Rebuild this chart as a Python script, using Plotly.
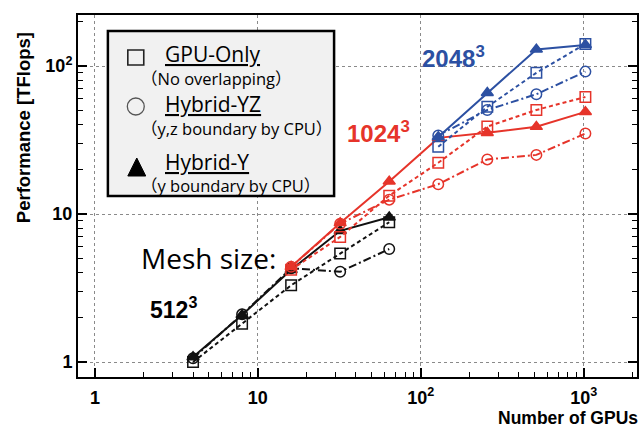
import plotly.graph_objects as go

# ---- data -------------------------------------------------------------
gpus_512 = [4, 8, 16, 32, 64]
gpus_1024 = [16, 32, 64, 128, 256, 512, 1024]
gpus_2048 = [128, 256, 512, 1024]

gpu_only_512 = [1.0, 1.81, 3.3, 5.4, 8.8]
hybrid_yz_512 = [1.06, 2.1, 4.3, 4.07, 5.8]
hybrid_y_512 = [1.08, 2.08, 4.2, 7.7, 9.5]

gpu_only_1024 = [4.2, 7.0, 13.3, 22.2, 39.0, 50.5, 61.8]
hybrid_yz_1024 = [4.4, 8.6, 12.5, 15.9, 23.4, 25.1, 35.0]
hybrid_y_1024 = [4.4, 8.7, 16.6, 32.7, 35.4, 38.9, 49.0]

gpu_only_2048 = [28.5, 53.0, 90.0, 141.0]
hybrid_yz_2048 = [34.0, 50.5, 64.5, 91.7]
hybrid_y_2048 = [33.2, 66.0, 129.5, 139.0]

x_tick_vals = [1, 10, 100, 1000]
x_tick_text = ["1", "10", "10<sup>2</sup>", "10<sup>3</sup>"]
y_tick_vals = [1, 10, 100]
y_tick_text = ["1", "10", "10<sup>2</sup>"]

BLACK = "#111111"
RED = "#e6342a"
BLUE = "#2c50a2"

DASH = "4px,3px"
DASHDOT = "8px,3px,2px,3px"

fig = go.Figure()


def add_series(x, y, color, symbol, dash):
    fig.add_trace(go.Scatter(
        x=x, y=y, mode="lines+markers",
        line=dict(color=color, width=2, dash=dash),
        marker=dict(symbol=symbol, size=10.5, color=color,
                    line=dict(color=color, width=1.5)),
        showlegend=False, hoverinfo="skip",
    ))


for color, xs, g, yz, y in [
    (BLACK, gpus_512, gpu_only_512, hybrid_yz_512, hybrid_y_512),
    (RED, gpus_1024, gpu_only_1024, hybrid_yz_1024, hybrid_y_1024),
    (BLUE, gpus_2048, gpu_only_2048, hybrid_yz_2048, hybrid_y_2048),
]:
    add_series(xs, g, color, "square-open", DASH)
    add_series(xs, yz, color, "circle-open", DASHDOT)
    add_series(xs, y, color, "triangle-up", "solid")

# ---- plot area geometry (pixels) ---------------------------------------
L, R, T, B = 78, 639, 15, 377
W, H = 641, 430


def px(x):
    return (x - L) / (R - L)


def py(y):
    return (B - y) / (B - T)


minor_vals = [m * d for d in (1, 10, 100, 1000) for m in range(2, 10)]

axis_common = dict(
    type="log",
    showline=True, linecolor="black", linewidth=2,
    ticks="inside", ticklen=9, tickwidth=1.5, tickcolor="black",
    showgrid=True, gridcolor="#8a8a8a", griddash="dot", gridwidth=1,
    zeroline=False,
    tickfont=dict(family="Liberation Sans, Arial", size=18, color="black",
                  weight="bold"),
    minor=dict(ticks="inside", ticklen=5, tickwidth=1, tickcolor="black",
               tickvals=minor_vals, showgrid=False),
)

fig.update_xaxes(
    range=[-0.104, 3.327], tickvals=x_tick_vals, ticktext=x_tick_text,
    mirror=True, ticklabelstandoff=3, **axis_common,
)
fig.update_yaxes(
    range=[-0.1014, 2.345], tickvals=y_tick_vals, ticktext=y_tick_text,
    mirror="allticks", **axis_common,
)

# ---- legend box --------------------------------------------------------
shapes = [
    dict(type="rect", xref="paper", yref="paper",
         x0=px(108), x1=px(335), y0=py(196), y1=py(31),
         fillcolor="#f1f1f1", line=dict(color="black", width=2.5)),
    dict(type="rect", xref="paper", yref="paper",
         x0=px(128), x1=px(144), y0=py(65), y1=py(50),
         line=dict(color="#222", width=1.6)),
    dict(type="circle", xref="paper", yref="paper",
         x0=px(127.5), x1=px(144.5), y0=py(115), y1=py(98),
         line=dict(color="#555", width=1.3)),
    dict(type="path", xref="paper", yref="paper",
         path="M {},{} L {},{} L {},{} Z".format(
             px(128), py(176), px(146), py(176), px(137), py(158)),
         fillcolor="black", line=dict(color="black", width=1)),
]

LEG_FONT = "Open Sans, Noto Sans CJK JP"
annotations = []


def text(x, y, s, size, color="black", family=LEG_FONT, anchor="left",
         angle=0):
    annotations.append(dict(
        xref="paper", yref="paper", x=px(x), y=py(y), text=s,
        showarrow=False, xanchor=anchor, yanchor="middle", textangle=angle,
        font=dict(family=family, size=size, color=color),
    ))


text(163, 54, "<u>GPU-Only</u>", 21)
text(139, 78.5, "（No overlapping）", 16.5)
text(163, 104, "<u>Hybrid-YZ</u>", 21)
text(139, 128.5, "（y,z boundary by CPU）", 16.5)
text(163, 161.5, "<u>Hybrid-Y</u>", 21)
text(139, 186, "（y boundary by CPU）", 16.5)

# ---- in-plot labels ---------------------------------------------------
BOLD = "Liberation Sans, Arial"
text(139, 258, "Mesh size:", 28)
text(148, 308, "<b>512<sup>3</sup></b>", 23, family=BOLD)
text(346, 132, "<b>1024<sup>3</sup></b>", 24, color=RED, family=BOLD)
text(421, 57, "<b>2048<sup>3</sup></b>", 24, color=BLUE, family=BOLD)

# ---- axis titles ------------------------------------------------------
text(23, 128, "<b>Performance [TFlops]</b>", 18.5, family=BOLD,
     anchor="center", angle=-90)
annotations.append(dict(
    xref="paper", yref="paper", x=px(642), y=py(418),
    text="<b>Number of GPUs</b>", showarrow=False,
    xanchor="right", yanchor="middle",
    font=dict(family=BOLD, size=17.5, color="black"),
))

fig.update_layout(
    width=W, height=H,
    margin=dict(l=L, r=W - R, t=T, b=H - B, pad=0),
    paper_bgcolor="white", plot_bgcolor="white",
    shapes=shapes, annotations=annotations,
    showlegend=False,
)

fig.write_html("out.html")
